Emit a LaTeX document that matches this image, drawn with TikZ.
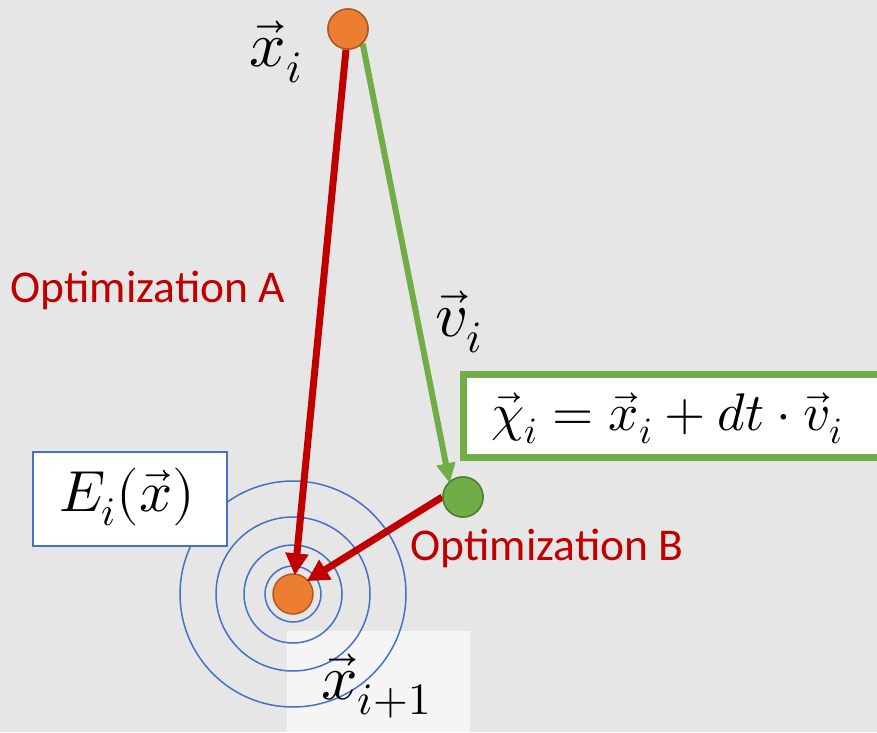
\documentclass[tikz,border=0pt]{standalone}
\usepackage{fontspec}
\usepackage{unicode-math}
\setmathfont{Latin Modern Math}
\usetikzlibrary{arrows.meta}
\newfontfamily\carlito{Carlito}
\definecolor{bgc}{HTML}{E6E6E6}
\definecolor{paleb}{HTML}{F5F5F5}
\definecolor{rd}{HTML}{C00000}
\definecolor{gn}{HTML}{70AD47}
\definecolor{gnd}{HTML}{507E32}
\definecolor{og}{HTML}{ED7D31}
\definecolor{ogd}{HTML}{AE5A21}
\definecolor{bl}{HTML}{4472C4}
\tikzset{
  dot/.style={circle, minimum size=40pt, inner sep=0pt, line width=1.5pt},
  odot/.style={dot, fill=og, draw=ogd},
  gdot/.style={dot, fill=gn, draw=gnd},
  redarrow/.style={draw=rd, line width=7pt, -{Triangle[length=22pt,width=22pt]}, shorten >=-2pt},
  greenarrow/.style={draw=gn, line width=6pt, -{Triangle[length=20pt,width=18pt]}, shorten >=-2pt},
  optlabel/.style={text=rd, font=\carlito\fontsize{45.5}{52}\selectfont, inner sep=0pt},
  mathlabel/.style={font=\fontsize{64}{74}\selectfont, inner sep=0pt},
  contour/.style={draw=bl, line width=1.5pt},
}
\begin{document}
\begin{tikzpicture}[x=1pt,y=-1pt]
\useasboundingbox (0,0) rectangle (877,732);
\fill[bgc] (0,0) rectangle (877,732);
\fill[paleb] (287,631) rectangle (470,732);
% contours
\foreach \r in {28,49,77,113} \draw[contour] (293,594) circle (\r);
% boxes
\node[draw=bl, fill=white, line width=1.5pt, minimum width=194pt, minimum height=94pt, inner sep=0pt] (ebox) at (130,499) {};
\node[font=\fontsize{58}{66}\selectfont, inner sep=0pt] (etext) at (127,497) {$E_i(\vec{x})$};
\node[draw=gn, fill=white, line width=7pt, minimum width=440pt, minimum height=83pt, inner sep=0pt, anchor=west] (eqbox) at (460,416) {};
\node[font=\fontsize{53}{62}\selectfont, inner sep=0pt] (eqtext) at (667,418) {$\vec{\chi}_i = \vec{x}_i + dt\cdot\vec{v}_i$};
% points
\node[odot] (xi) at (348,29) {};
\node[odot] (xn) at (293,594) {};
\node[gdot] (chi) at (463,497) {};
% arrows
\draw[redarrow] (xi) -- (xn);
\draw[greenarrow] (xi.-45) -- (chi.131);
\draw[redarrow] (chi.west) -- (xn.42);
\node[odot] at (xi) {};
\node[gdot] at (chi) {};
% labels
\node[mathlabel] (lxi) at (276,52) {$\vec{x}_i$};
\node[mathlabel] (lvi) at (459,322) {$\vec{v}_i$};
\node[mathlabel] (lxn) at (376,686) {$\vec{x}_{i+1}$};
\node[optlabel] (opta) at (148,290) {Optimization A};
\node[optlabel] (optb) at (547,548) {Optimization B};
\end{tikzpicture}
\end{document}
